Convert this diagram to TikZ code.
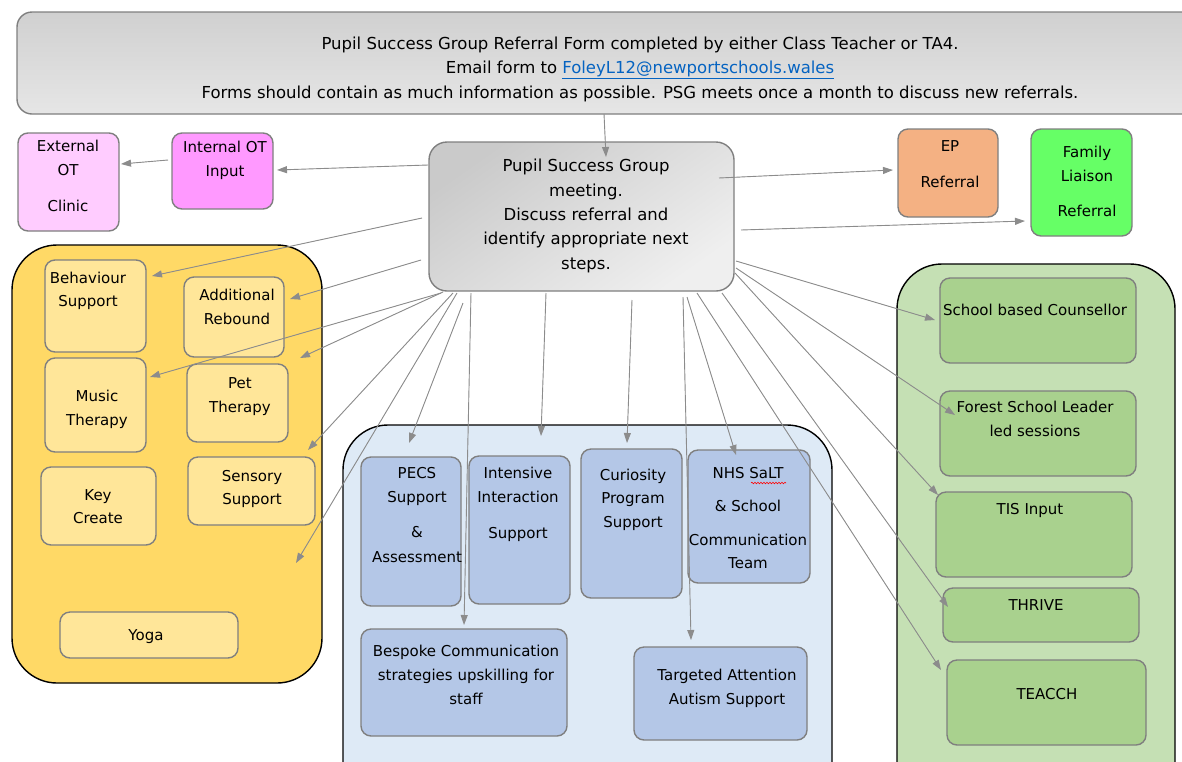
\documentclass[tikz,border=0pt]{standalone}
\usepackage{fontspec}
\setmainfont{DejaVu Sans}
\usetikzlibrary{arrows.meta,decorations.pathmorphing}
\definecolor{bord}{HTML}{7F7F7F}
\definecolor{arrc}{HTML}{8C8C8C}
\definecolor{hdrA}{HTML}{D0D0D0}
\definecolor{hdrB}{HTML}{E6E6E6}
\definecolor{cenA}{HTML}{CACACA}
\definecolor{cenB}{HTML}{EFEFEF}
\definecolor{extc}{HTML}{FFCCFF}
\definecolor{intc}{HTML}{FF99FF}
\definecolor{epc}{HTML}{F4B183}
\definecolor{famc}{HTML}{66FF66}
\definecolor{yelC}{HTML}{FFD966}
\definecolor{yelB}{HTML}{FFE699}
\definecolor{bluC}{HTML}{DEEAF6}
\definecolor{bluB}{HTML}{B4C7E7}
\definecolor{grnC}{HTML}{C5E0B4}
\definecolor{grnB}{HTML}{A9D18E}
\definecolor{linkc}{HTML}{0563C1}
\newcommand\bx[6]{\node[#1, minimum width={#4-#2}, minimum height={#5-#3}] (#6) at ({(#2+#4)/2},{(#3+#5)/2}) {};}
\newcommand\tl[4]{\node[txt] (#1) at (#2,#3) {#4};}
\newcommand\tb[4]{\node[txt, big] (#1) at (#2,#3) {#4};}
\begin{document}
\begin{tikzpicture}[x=1pt,y=-1pt,
  box/.style={draw=bord, line width=1.4pt, rounded corners=10pt, inner sep=0pt, outer sep=0pt},
  cont/.style={draw=black, line width=1.4pt, rounded corners=45pt, inner sep=0pt, outer sep=0pt},
  txt/.style={inner sep=0pt, text height=12pt, text depth=3pt, font=\fontsize{15}{18}\selectfont},
  big/.style={font=\fontsize{16.5}{19}\selectfont},
  arr/.style={draw=arrc, line width=0.9pt, -{Triangle[length=10pt,width=7pt]}, fill=arrc}]
\useasboundingbox (0,0) rectangle (1182,761);
\clip (0,0) rectangle (1182,761);
% containers
\bx{cont, fill=yelC}{12}{245}{322}{683}{yellow}
\bx{cont, fill=bluC}{343}{425}{832}{820}{blue}
\bx{cont, fill=grnC}{897}{264}{1175}{820}{green}
% header and central
\bx{box, rounded corners=15pt, top color=hdrA, bottom color=hdrB}{17}{12}{1210}{114}{hdr}
\bx{box, rounded corners=18pt, top color=cenA, bottom color=cenB, shading angle=35}{429}{142}{734}{291}{central}
% top row boxes
\bx{box, fill=extc}{18}{133}{119}{231}{ext}
\bx{box, fill=intc}{172}{133}{273}{209}{int}
\bx{box, fill=epc}{898}{129}{998}{217}{ep}
\bx{box, fill=famc}{1031}{129}{1132}{236}{fam}
% yellow boxes
\bx{box, fill=yelB}{45}{260}{146}{352}{beh}
\bx{box, fill=yelB}{184}{277}{284}{357}{addr}
\bx{box, fill=yelB}{45}{358}{146}{452}{mus}
\bx{box, fill=yelB}{187}{364}{288}{442}{pet}
\bx{box, fill=yelB}{41}{467}{156}{545}{key}
\bx{box, fill=yelB}{188}{457}{315}{525}{sen}
\bx{box, fill=yelB}{60}{612}{238}{658}{yoga}
% blue boxes
\bx{box, fill=bluB}{361}{457}{461}{606}{pecs}
\bx{box, fill=bluB}{469}{456}{570}{604}{inten}
\bx{box, fill=bluB}{581}{449}{682}{598}{cur}
\bx{box, fill=bluB}{688}{450}{810}{583}{nhs}
\bx{box, fill=bluB}{361}{629}{567}{736}{besp}
\bx{box, fill=bluB}{634}{647}{807}{740}{targ}
% green boxes
\bx{box, fill=grnB}{940}{278}{1136}{363}{coun}
\bx{box, fill=grnB}{940}{391}{1136}{476}{forest}
\bx{box, fill=grnB}{936}{492}{1132}{577}{tis}
\bx{box, fill=grnB}{943}{588}{1139}{642}{thrive}
\bx{box, fill=grnB}{947}{660}{1146}{745}{teacch}
% texts
\tb{h1}{640}{45}{Pupil Success Group Referral Form completed by either Class Teacher or TA4.}
\tb{h2}{640}{69}{Email form to \textcolor{linkc}{\underline{FoleyL12@newportschools.wales}}}
\tb{h3}{640}{94}{Forms should contain as much information as possible. PSG meets once a month to discuss new referrals.}
\tb{c1}{586}{167}{Pupil Success Group}
\tb{c2}{586}{192}{meeting.}
\tb{c3}{586}{216}{Discuss referral and}
\tb{c4}{586}{240}{identify appropriate next}
\tb{c5}{586}{265}{steps.}
\tl{e1}{68}{147}{External}
\tl{e2}{68}{171}{OT}
\tl{e3}{68}{207}{Clinic}
\tl{i1}{225}{148}{Internal OT}
\tl{i2}{225}{172}{Input}
\tl{p1}{950}{147}{EP}
\tl{p2}{950}{183}{Referral}
\tl{f1}{1087}{153}{Family}
\tl{f2}{1087}{177}{Liaison}
\tl{f3}{1087}{212}{Referral}
\tl{b1}{88}{279}{Behaviour}
\tl{b2}{88}{302}{Support}
\tl{a1}{237}{296}{Additional}
\tl{a2}{237}{320}{Rebound}
\tl{m1}{97}{397}{Music}
\tl{m2}{97}{421}{Therapy}
\tl{pt1}{240}{384}{Pet}
\tl{pt2}{240}{408}{Therapy}
\tl{k1}{98}{496}{Key}
\tl{k2}{98}{519}{Create}
\tl{s1}{252}{477}{Sensory}
\tl{s2}{252}{500}{Support}
\tl{y1}{146}{636}{Yoga}
\tl{pe1}{417}{474}{PECS}
\tl{pe2}{417}{498}{Support}
\tl{pe3}{417}{533}{\&}
\tl{pe4}{417}{558}{Assessment}
\tl{in1}{518}{474}{Intensive}
\tl{in2}{518}{498}{Interaction}
\tl{in3}{518}{534}{Support}
\tl{cu1}{633}{476}{Curiosity}
\tl{cu2}{633}{499}{Program}
\tl{cu3}{633}{523}{Support}
\tl{n1}{748}{474}{NHS SaLT}
\tl{n2}{748}{507}{\& School}
\tl{n3}{748}{541}{Communication}
\tl{n4}{748}{564}{Team}
\tl{bs1}{466}{652}{Bespoke Communication}
\tl{bs2}{466}{676}{strategies upskilling for}
\tl{bs3}{466}{700}{staff}
\tl{t1}{727}{676}{Targeted Attention}
\tl{t2}{727}{700}{Autism Support}
\tl{g1}{1035}{311}{School based Counsellor}
\tl{g2}{1035}{408}{Forest School Leader}
\tl{g3}{1035}{432}{led sessions}
\tl{g4}{1030}{510}{TIS Input}
\tl{g5}{1036}{606}{THRIVE}
\tl{g6}{1047}{695}{TEACCH}
\draw[red, line width=0.6pt, decorate, decoration={snake, amplitude=0.8pt, segment length=3pt}] (751,483) -- (786,483);
% connector coordinates
\coordinate (sH) at (604,114);   \coordinate (tC) at (606,157);
\coordinate (sI) at (428,165);   \coordinate (tI) at (277,170);
\coordinate (sE) at (168,160);   \coordinate (tE) at (121,164);
\coordinate (sEP) at (719,178);  \coordinate (tEP) at (893,170);
\coordinate (sF) at (741,230);   \coordinate (tF) at (1025,221);
\coordinate (sB) at (422,218);   \coordinate (tB) at (152,276);
\coordinate (sA) at (421,260);   \coordinate (tA) at (290,299);
\coordinate (sM) at (441,293);   \coordinate (tM) at (150,377);
\coordinate (sX1) at (443,292);  \coordinate (fX1) at (300,358);
\coordinate (sS) at (453,293);   \coordinate (tS) at (308,450);
\coordinate (sX2) at (457,293);  \coordinate (fX2) at (296,563);
\coordinate (sP) at (463,303);   \coordinate (tP) at (409,443);
\coordinate (sBs) at (471,293);  \coordinate (tBs) at (464,625);
\coordinate (sX3) at (546,293);  \coordinate (fX3) at (541,436);
\coordinate (sCu) at (632,300);  \coordinate (tCu) at (627,443);
\coordinate (sT) at (683,297);   \coordinate (tT) at (691,640);
\coordinate (sN) at (687,297);   \coordinate (tN) at (736,455);
\coordinate (sTe) at (697,293);  \coordinate (tTe) at (941,670);
\coordinate (sTh) at (722,293);  \coordinate (tTh) at (948,607);
\coordinate (sTi) at (735,273);  \coordinate (tTi) at (938,495);
\coordinate (sFo) at (736,268);  \coordinate (tFo) at (955,415);
\coordinate (sCo) at (736,261);  \coordinate (tCo) at (935,320);
\foreach \a/\b in {sH/tC,sI/tI,sE/tE,sEP/tEP,sF/tF,sB/tB,sA/tA,sM/tM,sX1/fX1,sS/tS,sX2/fX2,sP/tP,sBs/tBs,sX3/fX3,sCu/tCu,sT/tT,sN/tN,sTe/tTe,sTh/tTh,sTi/tTi,sFo/tFo,sCo/tCo}
  \draw[arr] (\a) -- (\b);
\end{tikzpicture}
\end{document}
